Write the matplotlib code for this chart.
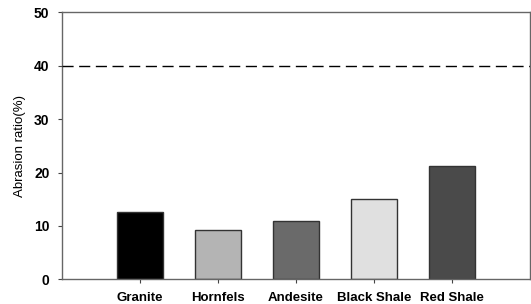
import matplotlib
matplotlib.use("Agg")
import matplotlib.pyplot as plt

rocks = ["Granite", "Hornfels", "Andesite", "Black Shale", "Red Shale"]
abrasion = [12.7, 9.3, 10.9, 15.0, 21.2]
barColors = ["#000000", "#b4b4b4", "#6a6a6a", "#e0e0e0", "#4a4a4a"]
limitValue = 40

plt.rcParams["font.family"] = ["Liberation Sans", "DejaVu Sans"]

fig = plt.figure(figsize=(5.31, 3.04), dpi=100)
ax = fig.add_axes([0.1168, 0.0806, 0.8812, 0.8799])

positions = range(len(rocks))
ax.bar(positions, abrasion, width=0.6, color=barColors, edgecolor="#333333", linewidth=1.0, zorder=2)
ax.axhline(limitValue, color="black", linestyle=(0, (8, 4)), linewidth=1.0, zorder=3)

ax.set_xlim(-1, 5)
ax.set_ylim(0, 50)
ax.set_xticks(list(positions))
ax.set_xticklabels(rocks, fontsize=9.5, fontweight="bold")
ax.set_yticks([0, 10, 20, 30, 40, 50])
ax.set_yticklabels(["0", "10", "20", "30", "40", "50"], fontsize=10, fontweight="bold")
ax.set_ylabel("Abrasion ratio(%)", fontsize=9.5, labelpad=6)

for side in ["left", "right", "top", "bottom"]:
    ax.spines[side].set_color("#666666")
    ax.spines[side].set_linewidth(1.0)
ax.tick_params(axis="both", direction="out", length=3, width=0.8, color="#444444")
ax.tick_params(axis="y", pad=6)
ax.tick_params(axis="x", pad=6)

fig.savefig("out.png", dpi=100)
